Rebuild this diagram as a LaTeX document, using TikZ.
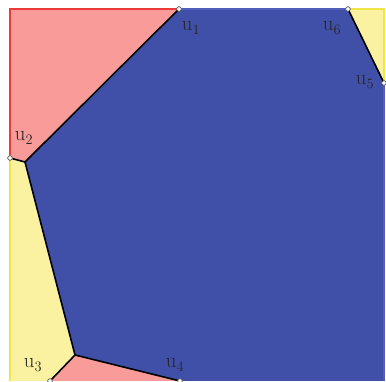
\documentclass[tikz,border=0pt]{standalone}
\usepackage{tikz}
\definecolor{rfill}{RGB}{249,155,152}
\definecolor{bfill}{RGB}{64,80,168}
\definecolor{yfill}{RGB}{250,242,160}
\definecolor{redge}{RGB}{235,60,55}
\definecolor{yedge}{RGB}{240,228,70}
\definecolor{bedge}{RGB}{80,95,185}
\tikzset{
  dot/.style={circle,draw=gray!70!black,fill=white,inner sep=0pt,minimum size=4.5pt,line width=0.6pt},
  seam/.style={black,line width=1.6pt,line join=round},
  lab/.style={inner sep=0pt,text=black!85,font=\fontsize{20}{24}\selectfont}
}
\begin{document}
\begin{tikzpicture}[x=1pt,y=-1pt]
\useasboundingbox (0,0) rectangle (386,382);
% vertices
\coordinate (tl) at (10,9);
\coordinate (tr) at (384,9);
\coordinate (br) at (384,381);
\coordinate (bl) at (10,381);
\coordinate (a) at (25,162);
\coordinate (b) at (75,355);
% regions
\fill[bfill] (179,9) -- (348,9) -- (384,83) -- (br) -- (180,381) -- (b) -- (a) -- cycle;
\fill[rfill] (tl) -- (179,9) -- (a) -- (10,158) -- cycle;
\fill[yfill] (10,158) -- (a) -- (b) -- (50,381) -- (bl) -- cycle;
\fill[rfill] (50,381) -- (b) -- (180,381) -- cycle;
\fill[yfill] (348,9) -- (tr) -- (384,83) -- cycle;
% border
\draw[redge,line width=1.2pt] (10,158) -- (tl) -- (179,9);
\draw[yedge,line width=1.2pt] (10,158) -- (bl);
\draw[bedge,line width=1.2pt] (179,9) -- (348,9);
\draw[yedge,line width=1.2pt] (348,9) -- (tr) -- (384,83);
\draw[bedge,line width=1.2pt] (384,83) -- (br);
% dots
\node[dot] (u1) at (179,9) {};
\node[dot] (u2) at (10,158) {};
\node[dot] (u3) at (50,381) {};
\node[dot] (u4) at (180,381) {};
\node[dot] (u5) at (384,83) {};
\node[dot] (u6) at (348,9) {};
% seams
\draw[seam] (u1) -- (a) -- (u2);
\draw[seam] (a) -- (b) -- (u3);
\draw[seam] (b) -- (u4);
\draw[seam] (u6) -- (u5);
\node[dot] at (u1) {};
\node[dot] at (u2) {};
\node[dot] at (u3) {};
\node[dot] at (u4) {};
\node[dot] at (u5) {};
\node[dot] at (u6) {};
% labels
\node[lab] (l1) at (191,28) {$\mathrm{u}_1$};
\node[lab] (l2) at (24,138) {$\mathrm{u}_2$};
\node[lab] (l3) at (33,365) {$\mathrm{u}_3$};
\node[lab] (l4) at (175,365) {$\mathrm{u}_4$};
\node[lab] (l5) at (365,82) {$\mathrm{u}_5$};
\node[lab] (l6) at (332,28) {$\mathrm{u}_6$};
\end{tikzpicture}
\end{document}
